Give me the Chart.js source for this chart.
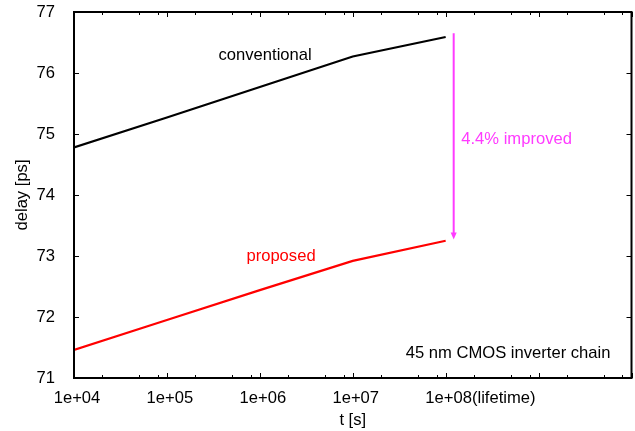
<!DOCTYPE html>
<html>
<head>
<meta charset="utf-8">
<script src="https://cdn.jsdelivr.net/npm/chart.js@4"></script>
<style>
  body { margin: 0; background: #fff; }
  #wrap { width: 635px; height: 431px; }
</style>
</head>
<body>
<div id="wrap"><canvas id="delayChart" width="635" height="431"></canvas></div>
<script>
const FONT = '"Liberation Sans", Arial, Helvetica, sans-serif';
const FONT_SIZE = 16.6;
const MAGENTA = "#ff3bff";

// stress time [s] and inverter chain delay [ps]
const timePoints = [1e4, 1e5, 1e6, 1e7, 1e8];
const conventional = [74.78, 75.27, 75.77, 76.27, 76.59];
const proposed = [71.46, 71.95, 72.44, 72.92, 73.25];

const xTickValues = [1e4, 1e5, 1e6, 1e7, 1e8, 1e9, 1e10];
const xTickLabels = ["1e+04", "1e+05", "1e+06", "1e+07", "1e+08(lifetime)", "", ""];
const yTickValues = [71, 72, 73, 74, 75, 76, 77];

// improvement arrow at end of life
const arrowTime = 1.22e8;
const arrowDelay = [76.65, 73.27];

const toPoints = (xs, ys) => xs.map((x, i) => ({ x, y: ys[i] }));

// text drawn inside the plot, anchored in data coordinates
const notes = [
  { text: "conventional", x: 1.14e6, y: 76.28, color: "#000", align: "center" },
  { text: "proposed", x: 1.69e6, y: 72.99, color: "#ff0000", align: "center" },
  { text: "4.4% improved", x: 1.47e8, y: 74.91, color: MAGENTA, align: "left" },
  { text: "45 nm CMOS inverter chain", x: 4.7e8, y: 71.41, color: "#000", align: "center" }
];

const framePlugin = {
  id: "frame",
  afterDatasetsDraw(chart) {
    const { ctx, chartArea: a, scales: { x, y } } = chart;
    ctx.save();

    // frame
    ctx.strokeStyle = "#000";
    ctx.lineWidth = 2;
    ctx.strokeRect(a.left, a.top, a.right - a.left, a.bottom - a.top);

    // inward ticks, majors on decades, minors at 2, 5, 8
    ctx.lineWidth = 1;
    ctx.beginPath();
    for (let d = 4; d <= 10; d++) {
      const base = Math.pow(10, d);
      [1, 2, 5, 8].forEach(m => {
        const v = base * m;
        if (v > 1e10) return;
        const px = Math.round(x.getPixelForValue(v)) + 0.5;
        const len = m === 1 ? 5 : 3;
        ctx.moveTo(px, a.bottom); ctx.lineTo(px, a.bottom - len);
        ctx.moveTo(px, a.top); ctx.lineTo(px, a.top + len);
      });
    }
    yTickValues.forEach(v => {
      const py = Math.round(y.getPixelForValue(v)) + 0.5;
      ctx.moveTo(a.left, py); ctx.lineTo(a.left + 5, py);
      ctx.moveTo(a.right, py); ctx.lineTo(a.right - 5, py);
    });
    ctx.stroke();

    // x tick labels, the number part centred on its tick
    ctx.font = FONT_SIZE + "px " + FONT;
    ctx.fillStyle = "#000";
    ctx.textBaseline = "middle";
    ctx.textAlign = "left";
    xTickValues.forEach((v, i) => {
      const label = xTickLabels[i];
      if (!label) return;
      const num = label.match(/^[0-9e+\-.]+/)[0];
      const px = x.getPixelForValue(v) + 3;
      ctx.fillText(label, px - ctx.measureText(num).width / 2, a.bottom + 20);
    });

    // notes
    notes.forEach(n => {
      ctx.fillStyle = n.color;
      ctx.textAlign = n.align;
      ctx.fillText(n.text, x.getPixelForValue(n.x), y.getPixelForValue(n.y));
    });

    // arrowhead
    const ax = x.getPixelForValue(arrowTime);
    const ay = y.getPixelForValue(arrowDelay[1]);
    ctx.fillStyle = MAGENTA;
    ctx.beginPath();
    ctx.moveTo(ax, ay);
    ctx.lineTo(ax - 3, ay - 7);
    ctx.lineTo(ax + 3, ay - 7);
    ctx.closePath();
    ctx.fill();

    ctx.restore();
  }
};

new Chart(document.getElementById("delayChart"), {
  type: "line",
  data: {
    datasets: [
      { label: "conventional", data: toPoints(timePoints, conventional), borderColor: "#000", borderWidth: 2.2 },
      { label: "proposed", data: toPoints(timePoints, proposed), borderColor: "#ff0000", borderWidth: 2.2 },
      { label: "improvement", data: toPoints([arrowTime, arrowTime], [arrowDelay[0], arrowDelay[1] + 0.1]), borderColor: MAGENTA, borderWidth: 2 }
    ]
  },
  options: {
    responsive: false,
    animation: false,
    events: [],
    layout: { padding: { left: 0, right: 3.5, top: 12, bottom: 0 } },
    elements: { point: { radius: 0 }, line: { tension: 0, borderCapStyle: "butt" } },
    plugins: { legend: { display: false }, tooltip: { enabled: false } },
    scales: {
      x: {
        type: "logarithmic",
        min: 1e4,
        max: 1e10,
        grid: { display: false },
        border: { display: false },
        ticks: { display: false },
        title: { display: true, text: "t [s]", color: "#000", font: { family: FONT, size: FONT_SIZE }, padding: { top: 0, bottom: 1 } },
        afterFit(scale) {
          scale.height = 53;
          scale.paddingLeft = 0;
          scale.paddingRight = 0;
        }
      },
      y: {
        min: 71,
        max: 77,
        grid: { display: false },
        border: { display: false },
        afterBuildTicks(scale) { scale.ticks = yTickValues.map(v => ({ value: v })); },
        ticks: { color: "#000", font: { family: FONT, size: FONT_SIZE }, padding: 11 },
        title: { display: true, text: "delay [ps]", color: "#000", font: { family: FONT, size: FONT_SIZE }, padding: { top: 12, bottom: 0 } },
        afterFit(scale) {
          scale.width = 74;
          scale.paddingTop = 0;
          scale.paddingBottom = 0;
        }
      }
    }
  },
  plugins: [framePlugin]
});
</script>
</body>
</html>
